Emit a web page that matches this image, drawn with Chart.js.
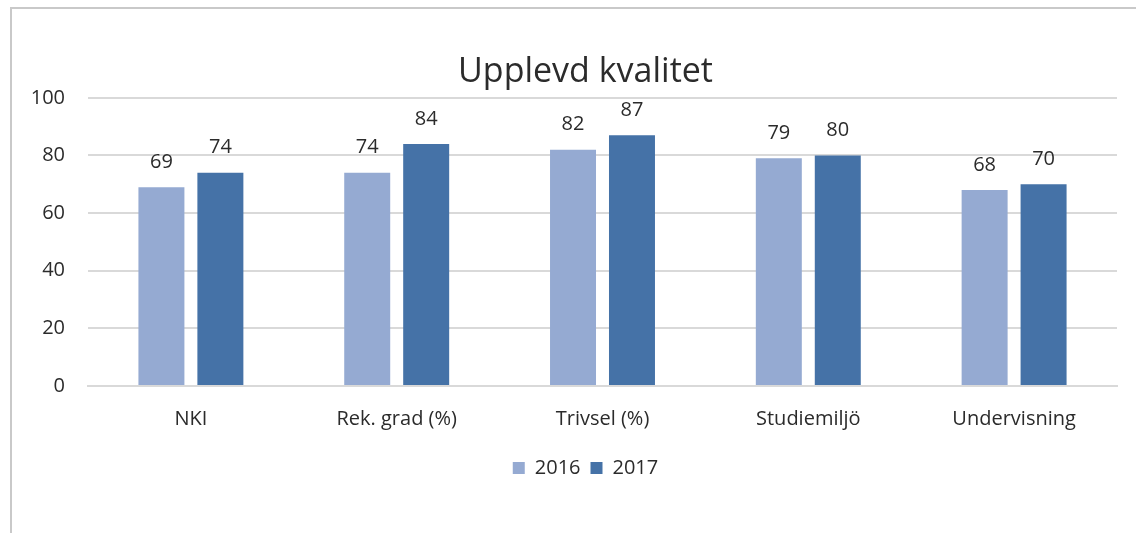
<!DOCTYPE html>
<html>
<head>
<meta charset="utf-8">
<script src="https://cdn.jsdelivr.net/npm/chart.js@4.4.0/dist/chart.umd.min.js"></script>
<style>
  html, body { margin: 0; padding: 0; background: #ffffff; overflow: hidden; }
  #wrap { position: relative; width: 1136px; height: 533px; overflow: hidden; }
  #frame { position: absolute; left: 10px; top: 7px; width: 2000px; height: 2000px;
           border-left: 2px solid #c9c9c9; border-top: 2px solid #c9c9c9; box-sizing: border-box; }
  canvas { position: absolute; left: 0; top: 0; }
</style>
</head>
<body>
<div id="wrap">
  <div id="frame"></div>
  <canvas id="c" width="1140" height="533"></canvas>
</div>
<script>
const categories = ["NKI", "Rek. grad (%)", "Trivsel (%)", "Studiemiljö", "Undervisning"];
const values2016 = [69, 74, 82, 79, 68];
const values2017 = [74, 84, 87, 80, 70];
const seriesNames = ["2016", "2017"];
const yTicks = [0, 20, 40, 60, 80, 100];
const chartTitle = "Upplevd kvalitet";

const FONT = "'Open Sans', 'DejaVu Sans', sans-serif";
const TEXT = "#2b2b2b";

const valueLabels = {
  id: 'valueLabels',
  afterDatasetsDraw(chart) {
    const ctx = chart.ctx;
    ctx.save();
    ctx.font = "20px " + FONT;
    ctx.fillStyle = TEXT;
    ctx.textAlign = 'center';
    ctx.textBaseline = 'middle';
    chart.data.datasets.forEach((ds, i) => {
      const meta = chart.getDatasetMeta(i);
      meta.data.forEach((bar, j) => {
        ctx.fillText(String(ds.data[j]), bar.x, bar.y - 25);
      });
    });
    ctx.restore();
  }
};

new Chart(document.getElementById('c'), {
  type: 'bar',
  data: {
    labels: categories,
    datasets: [
      { label: seriesNames[0], data: values2016, backgroundColor: '#95AAD2',
        categoryPercentage: 0.573, barPercentage: 0.78 },
      { label: seriesNames[1], data: values2017, backgroundColor: '#4572A7',
        categoryPercentage: 0.573, barPercentage: 0.78 }
    ]
  },
  options: {
    responsive: false,
    animation: false,
    devicePixelRatio: 1,
    layout: { padding: { left: 31, right: 0, top: 0, bottom: 45 } },
    plugins: {
      title: {
        display: true, text: chartTitle, color: TEXT,
        font: { family: FONT, size: 34, weight: 'normal', lineHeight: 1.2 },
        padding: { top: 52, bottom: 5 }
      },
      legend: {
        position: 'bottom',
        labels: {
          color: TEXT, boxWidth: 12, boxHeight: 12, padding: 10,
          font: { family: FONT, size: 20 }
        }
      },
      tooltip: { enabled: false }
    },
    scales: {
      x: {
        grid: { display: false, drawTicks: false },
        border: { display: true, color: '#d9d9d9', width: 2 },
        ticks: { color: TEXT, padding: 21, font: { family: FONT, size: 20 } },
        afterFit(scale) { scale.height -= 4; }
      },
      y: {
        min: 0, max: 100,
        afterBuildTicks(scale) { scale.ticks = yTicks.map(v => ({ value: v })); },
        grid: { color: '#d9d9d9', lineWidth: 2, drawTicks: false },
        border: { display: false },
        ticks: { color: TEXT, padding: 23, font: { family: FONT, size: 20 } },
        afterFit(scale) { scale.width = 57; }
      },
      yRight: {
        position: 'right',
        display: true,
        grid: { display: false, drawTicks: false },
        border: { display: false },
        ticks: { display: false },
        afterFit(scale) { scale.width = 23; }
      }
    }
  },
  plugins: [valueLabels]
});
</script>
</body>
</html>
